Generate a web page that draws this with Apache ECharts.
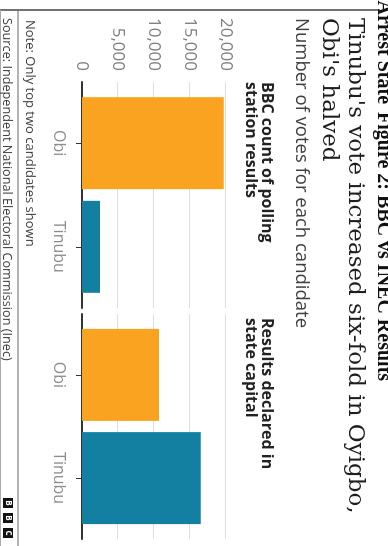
<!DOCTYPE html>
<html><head><meta charset="utf-8">
<script src="https://cdn.jsdelivr.net/npm/echarts@6/dist/echarts.min.js"></script>
<style>
html,body{margin:0;padding:0;width:388px;height:546px;overflow:hidden;background:#fff;}
#chart{position:absolute;left:0;top:0;width:546px;height:388px;transform-origin:0 0;transform:translate(388px,0) rotate(90deg);}
</style></head><body><div id="chart"></div>
<script>
const candidates = ['Obi', 'Tinubu'];
const bbcCount = [19700, 2500];
const stateCapital = [10700, 16500];
const valueTicks = [0, 5000, 10000, 15000, 20000];
const panelTitles = ['BBC count of polling\nstation results', 'Results declared in\nstate capital'];
const candidateColors = ['#FAA320', '#1380A1'];

const chart = echarts.init(document.getElementById('chart'), null, {renderer: 'canvas'});
const sans = 'Open Sans';
const serif = 'DejaVu Serif';

function xAxisFor(gi) {
  return {
    type: 'value', gridIndex: gi, min: -0.59, max: 1.59,
    splitLine: {show: false},
    axisLine: {show: true, onZero: false, lineStyle: {color: '#333', width: 2}},
    axisTick: {show: true, customValues: [0, 1], length: 6, lineStyle: {color: '#333', width: 1}},
    axisLabel: {show: true, customValues: [0, 1], margin: 15, color: '#8c8c8c', fontFamily: sans, fontSize: 16,
      formatter: v => candidates[Math.round(v)]}
  };
}
function yAxisFor(gi, showLabels) {
  return {
    type: 'value', gridIndex: gi, min: valueTicks[0], max: valueTicks[valueTicks.length - 1], interval: 5000,
    axisLine: {show: false}, axisTick: {show: false},
    splitLine: {show: true, lineStyle: {color: '#dedede', width: 1}},
    axisLabel: {show: showLabels, margin: 11, color: '#808080', fontFamily: sans, fontSize: 17,
      verticalAlign: 'middle', padding: [8, 0, 0, 0],
      formatter: v => v.toLocaleString('en-US')}
  };
}
function barSeries(gi, values) {
  return {
    type: 'bar', xAxisIndex: gi, yAxisIndex: gi, barWidth: 92,
    data: values.map((v, i) => ({value: [i, v], itemStyle: {color: candidateColors[i]}})),
    silent: true, animation: false
  };
}

chart.setOption({
  animation: false,
  backgroundColor: '#fff',
  title: [
    {text: "Tinubu's vote increased six-fold in Oyigbo,\nObi's halved", left: 18, top: 20, padding: 0,
      textStyle: {fontFamily: serif, fontSize: 23, fontWeight: 'normal', color: '#1e1e1e', lineHeight: 26}},
    {text: 'Number of votes for each candidate', left: 18, top: 77, padding: 0,
      textStyle: {fontFamily: sans, fontSize: 18.5, fontWeight: 'normal', color: '#404040'}},
    {text: panelTitles[0], left: 82, top: 113, padding: 0,
      textStyle: {fontFamily: sans, fontSize: 16, fontWeight: 'bold', color: '#222', lineHeight: 16}},
    {text: panelTitles[1], left: 318, top: 113, padding: 0,
      textStyle: {fontFamily: sans, fontSize: 16, fontWeight: 'bold', color: '#222', lineHeight: 16}},
    {text: 'Note: Only top two candidates shown', left: 20, top: 352, padding: 0,
      textStyle: {fontFamily: sans, fontSize: 13, fontWeight: 'normal', color: '#404040'}},
    {text: 'Source: Independent National Electoral Commission (Inec)', left: 18, top: 375, padding: 0,
      textStyle: {fontFamily: sans, fontSize: 12.7, fontWeight: 'normal', color: '#404040'}}
  ],
  grid: [
    {left: 82, top: 162, width: 226, height: 144, containLabel: false},
    {left: 314, top: 162, width: 225, height: 144, containLabel: false}
  ],
  xAxis: [xAxisFor(0), xAxisFor(1)],
  yAxis: [yAxisFor(0, true), yAxisFor(1, false)],
  series: [barSeries(0, bbcCount), barSeries(1, stateCapital)],
  graphic: [
    {type: 'line', shape: {x1: 10, y1: 8, x2: 10, y2: 388}, style: {stroke: '#444', lineWidth: 1.5}},
    {type: 'line', shape: {x1: 10, y1: 370, x2: 546, y2: 370}, style: {stroke: '#666', lineWidth: 1}},
    {type: 'line', shape: {x1: 10, y1: 387.5, x2: 546, y2: 387.5}, style: {stroke: '#aaa', lineWidth: 1}},
    {type: 'group', left: 498, top: 375, children: ['B', 'B', 'C'].flatMap((ch, i) => [
      {type: 'rect', shape: {x: i * 15, y: 0, width: 10, height: 10}, style: {fill: '#111'}},
      {type: 'text', x: i * 15 + 5, y: 5, style: {text: ch, fill: '#fff', font: 'bold 8px Open Sans', align: 'center', verticalAlign: 'middle'}}
    ])},
    {type: 'text', x: 112, y: 15, style: {text: 'Figure 2: BBC vs INEC Results', fill: '#111', font: 'bold 20px Liberation Serif', verticalAlign: 'bottom'}},
    {type: 'text', x: -30, y: 15, style: {text: 'for Arrest State', fill: '#111', font: 'bold 20px Liberation Serif', verticalAlign: 'bottom'}}
  ]
});
</script></body></html>
